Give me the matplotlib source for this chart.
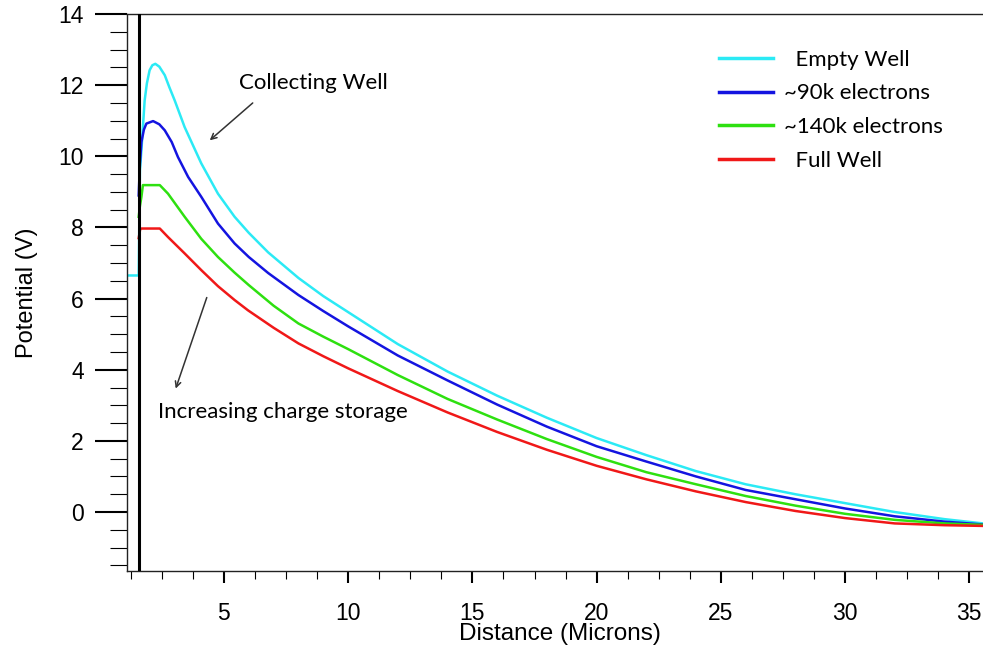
import matplotlib
matplotlib.use("Agg")
import matplotlib.pyplot as plt
from matplotlib.ticker import MultipleLocator

# Potential profiles (Distance in microns, Potential in V)
empty_x = [1.10, 1.57, 1.62, 1.68, 1.81, 1.90, 2.01, 2.12, 2.24, 2.40, 2.62, 2.80, 3.02, 3.42, 4.09,
           4.76, 5.43, 6.0, 6.78, 8.0, 9.0, 10.0, 12.0, 14.0, 16.0, 18.0, 20.0, 22.0, 24.0, 26.0,
           28.0, 30.0, 32.0, 34.0, 35.55]
empty_y = [6.65, 6.65, 9.6, 10.17, 11.57, 12.05, 12.42, 12.56, 12.6, 12.52, 12.28, 11.95, 11.57, 10.82, 9.80,
           8.95, 8.30, 7.85, 7.3, 6.58, 6.07, 5.62, 4.72, 3.95, 3.27, 2.65, 2.08, 1.6, 1.15, 0.78,
           0.5, 0.25, 0.0, -0.2, -0.32]

e90_x = [1.57, 1.62, 1.68, 1.78, 1.88, 2.15, 2.40, 2.62, 2.90, 3.15, 3.56, 4.09, 4.76, 5.43, 6.0, 6.78,
         8.0, 9.0, 10.0, 12.0, 14.0, 16.0, 18.0, 20.0, 22.0, 24.0, 26.0, 28.0, 30.0, 32.0, 34.0, 35.55]
e90_y = [8.9, 9.8, 10.4, 10.75, 10.92, 10.99, 10.9, 10.73, 10.4, 9.98, 9.42, 8.86, 8.11, 7.55, 7.17, 6.72,
         6.1, 5.65, 5.22, 4.4, 3.7, 3.02, 2.4, 1.85, 1.42, 1.0, 0.62, 0.36, 0.1, -0.12, -0.27, -0.35]

e140_x = [1.57, 1.62, 1.68, 1.74, 2.42, 2.75, 3.42, 4.09, 4.76, 5.43, 6.0, 7.0, 8.0, 9.0,
          10.0, 12.0, 14.0, 16.0, 18.0, 20.0, 22.0, 24.0, 26.0, 28.0, 30.0, 32.0, 34.0, 35.55]
e140_y = [8.3, 8.6, 8.86, 9.19, 9.19, 8.95, 8.30, 7.68, 7.17, 6.73, 6.38, 5.8, 5.3, 4.93,
          4.58, 3.85, 3.18, 2.6, 2.05, 1.55, 1.12, 0.78, 0.45, 0.18, -0.05, -0.22, -0.32, -0.36]

full_x = [1.57, 1.63, 1.68, 2.42, 2.75, 3.42, 4.09, 4.76, 5.43, 5.97, 7.0, 8.0, 9.0,
          10.0, 12.0, 14.0, 16.0, 18.0, 20.0, 22.0, 24.0, 26.0, 28.0, 30.0, 32.0, 34.0, 35.55]
full_y = [7.7, 7.95, 7.97, 7.97, 7.73, 7.27, 6.80, 6.35, 5.96, 5.67, 5.18, 4.74, 4.38,
          4.04, 3.4, 2.8, 2.25, 1.75, 1.3, 0.92, 0.58, 0.28, 0.03, -0.17, -0.32, -0.37, -0.39]

labels = ["  Empty Well", "~90k electrons", "~140k electrons", "  Full Well"]
colors = ["#2BEAF5", "#1414E0", "#2EE010", "#F01818"]

plt.rcParams['font.family'] = ['Liberation Sans', 'DejaVu Sans']

fig = plt.figure(figsize=(9.83, 6.49), dpi=100)
ax = fig.add_axes([0.1292, 0.1206, 0.8708, 0.8578])

series = [(empty_x, empty_y), (e90_x, e90_y), (e140_x, e140_y), (full_x, full_y)]
for (xs, ys), c, lab in zip(series, colors, labels):
    ax.plot(xs, ys, color=c, lw=1.8, label=lab)

# thick boundary line
ax.axvline(1.57, color='black', lw=2.2, zorder=5)

ax.set_xlim(1.1, 35.55)
ax.set_ylim(-1.65, 14)
ax.spines['right'].set_visible(False)
for s in ['left', 'bottom', 'top']:
    ax.spines[s].set_linewidth(1.0)
    ax.spines[s].set_color('#222222')

ax.xaxis.set_major_locator(MultipleLocator(5))
ax.xaxis.set_minor_locator(MultipleLocator(1.25))
ax.yaxis.set_major_locator(MultipleLocator(2))
ax.yaxis.set_minor_locator(MultipleLocator(0.5))
ax.tick_params(axis='x', which='major', length=8.6, width=1.5, labelsize=16.5, pad=14)
ax.tick_params(axis='x', which='minor', length=5.5, width=0.8)
ax.tick_params(axis='y', which='major', length=23, width=1.5, labelsize=16.5, pad=8)
ax.tick_params(axis='y', which='minor', length=12.2, width=0.8)

ax.set_xlabel("Distance (Microns)", fontsize=17.5)
ax.xaxis.set_label_coords(0.506, -0.094)
ax.set_ylabel("Potential (V)", fontsize=17, labelpad=15)

txt_font = ['Lato', 'DejaVu Sans']
ax.text(5.6, 12.05, "Collecting Well", fontsize=16, family=txt_font, va='center')
ax.annotate("", xy=(4.43, 10.45), xytext=(6.16, 11.5),
            arrowprops=dict(arrowstyle='->', color='#333333', lw=1.1, shrinkA=0, shrinkB=0))
ax.annotate("", xy=(3.06, 3.47), xytext=(4.31, 6.03),
            arrowprops=dict(arrowstyle='->', color='#333333', lw=1.1, shrinkA=0, shrinkB=0))
ax.text(2.33, 2.82, "Increasing charge storage", fontsize=16, family=txt_font, va='center')

ax.legend(loc='upper left', bbox_to_anchor=(0.668, 0.972), frameon=False,
          prop={'family': txt_font, 'size': 16}, handlelength=2.43, handletextpad=0.5,
          labelspacing=0.62)
for line in ax.get_legend().get_lines():
    line.set_linewidth(2.5)

fig.savefig("out.png", dpi=100)
